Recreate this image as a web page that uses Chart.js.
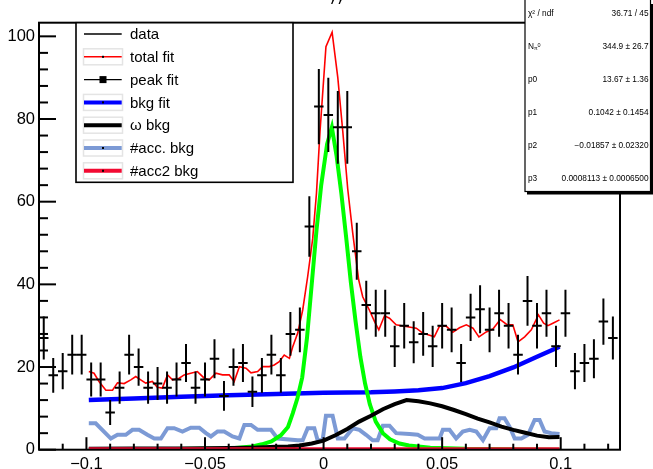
<!DOCTYPE html>
<html>
<head>
<meta charset="utf-8">
<script src="https://cdn.jsdelivr.net/npm/chart.js@4.4.1/dist/chart.umd.min.js"></script>
<style>
  html, body { margin: 0; padding: 0; background: #fff; }
  canvas { display: block; }
</style>
</head>
<body>
<canvas id="grafico" width="653" height="469"></canvas>
<script>
// histograma (dados)
const binCentros = [-0.118, -0.114, -0.110, -0.106, -0.102, -0.098, -0.094, -0.090, -0.086, -0.082,
  -0.078, -0.074, -0.070, -0.066, -0.062, -0.058, -0.054, -0.050, -0.046, -0.042,
  -0.038, -0.034, -0.030, -0.026, -0.022, -0.018, -0.014, -0.010, -0.006, -0.002,
  0.002, 0.006, 0.010, 0.014, 0.018, 0.022, 0.026, 0.030, 0.034, 0.038,
  0.042, 0.046, 0.050, 0.054, 0.058, 0.062, 0.066, 0.070, 0.074, 0.078,
  0.082, 0.086, 0.090, 0.094, 0.098, 0.102, 0.106, 0.110, 0.114, 0.118, 0.122];
const contagens = [27, 18, 19, 23, 23, 17, 17, 9, 15, 23,
  20, 15, 16, 15, 17, 21, 15, 17, 22, 13,
  20, 21, 14, 18, 23, 18, 28, 29, 54, 83,
  81, 78, 78, 48, 35, 33, 33, 25, 30, 26,
  28, 25, 30, 29, 21, 32, 34, 29, 33, 30,
  23, 36, 30, 33, 25, 33, 19, 21, 22, 31, 27];
const erros = [5.2, 4.2, 4.4, 4.8, 4.8, 4.1, 4.1, 3.0, 3.9, 4.8,
  4.5, 3.9, 4.0, 3.9, 4.1, 4.6, 3.9, 4.1, 4.7, 3.6,
  4.5, 4.6, 3.7, 4.2, 4.8, 4.2, 5.3, 5.4, 7.3, 9.1,
  9.0, 8.8, 8.8, 6.9, 5.9, 5.7, 5.7, 5.0, 5.5, 5.1,
  5.3, 5.0, 5.5, 5.4, 4.6, 5.7, 5.8, 5.4, 5.7, 5.5,
  4.8, 6.0, 5.5, 5.7, 5.0, 5.7, 4.4, 4.6, 4.7, 5.6, 5.2];
const meiaLargura = 0.002;

// ajuste total
const totalX = [-0.099, -0.0968, -0.0947, -0.0918, -0.089, -0.0869, -0.0841, -0.0813, -0.0792, -0.0771,
  -0.075, -0.0722, -0.0701, -0.068, -0.0658, -0.0637, -0.0609, -0.0588, -0.056, -0.0532,
  -0.0503, -0.0482, -0.0454, -0.0426, -0.0398, -0.0377, -0.0355, -0.0327, -0.0306, -0.0278,
  -0.0257, -0.0229, -0.0208, -0.0187, -0.0166, -0.0144, -0.013, -0.0109, -0.0088, -0.0067,
  -0.0046, -0.003, -0.0015, 0.001, 0.0036, 0.006, 0.0081, 0.0102, 0.0123, 0.0148,
  0.0165, 0.0193, 0.0215, 0.0233, 0.0257, 0.0278, 0.0306, 0.0348, 0.0391, 0.0418,
  0.0467, 0.0489, 0.0517, 0.0545, 0.0573, 0.0602, 0.063, 0.0655, 0.0686, 0.0714,
  0.0745, 0.0775, 0.0798, 0.082, 0.0848, 0.0876, 0.0906, 0.0928, 0.0946, 0.0967, 0.0995];
const totalY = [18.9, 18.5, 16.5, 14.4, 14.4, 16.2, 16.0, 16.9, 17.7, 16.9,
  16.1, 16.5, 15.1, 14.9, 18.1, 16.9, 17.3, 18.1, 18.5, 18.9,
  17.3, 16.9, 18.5, 18.1, 18.1, 16.5, 20.1, 19.7, 18.6, 18.9,
  20.1, 20.1, 20.5, 21.3, 22.9, 22.1, 24.9, 28.2, 33.8, 41.9,
  51, 62, 77, 97.5, 101, 90, 77, 63, 52.4, 41.1,
  37.0, 33.8, 31.0, 29.0, 32.4, 31.8, 30.2, 29.8, 29.4, 28.2,
  27.3, 29.9, 29.9, 28.4, 29.5, 30.2, 29.4, 27.3, 28.5, 29.2,
  31.5, 30.2, 30.2, 26.1, 27.3, 29.0, 32.6, 30.6, 30.0, 30.6, 31.4];

// pico
const picoX = [-0.099, -0.04, -0.03, -0.026, -0.022, -0.018, -0.015, -0.013, -0.011, -0.009,
  -0.007, -0.005, -0.003, -0.001, 0.0015, 0.0035, 0.0055, 0.0075, 0.0095, 0.0115,
  0.0135, 0.0155, 0.0175, 0.0195, 0.022, 0.025, 0.028, 0.032, 0.036, 0.04,
  0.045, 0.06, 0.0995];
const picoY = [0, 0.3, 0.8, 1.3, 2.0, 3.5, 5.5, 8.8, 12.5, 17.5,
  27, 40, 53, 64, 74, 78, 71, 62, 51.5, 40.5,
  31, 22.5, 16, 11, 6.8, 4.0, 2.5, 1.5, 1.0, 0.8,
  0.5, 0.2, 0];

// fundo polinomial
const bkgX = [-0.099, -0.08, -0.06, -0.04, -0.02, 0, 0.02, 0.03, 0.04, 0.05, 0.06, 0.07, 0.08, 0.09, 0.0995];
const bkgY = [12.0, 12.4, 12.8, 13.2, 13.5, 13.8, 13.9, 14.1, 14.4, 14.9, 16.1, 17.8, 19.9, 22.5, 24.9];

// fundo omega
const omegaX = [-0.099, -0.08, -0.06, -0.04, -0.03, -0.02, -0.015, -0.01, -0.005, 0,
  0.005, 0.01, 0.015, 0.02, 0.025, 0.03, 0.035, 0.04, 0.045, 0.05,
  0.055, 0.06, 0.065, 0.07, 0.075, 0.08, 0.085, 0.09, 0.095, 0.0995];
const omegaY = [0.2, 0.3, 0.3, 0.4, 0.5, 0.7, 0.8, 1.0, 1.5, 2.2,
  3.5, 5.0, 6.8, 8.2, 9.8, 11.0, 12.0, 11.7, 11.2, 10.5,
  9.6, 8.6, 7.5, 6.6, 5.6, 4.8, 4.1, 3.4, 3.0, 3.1];

// fundo acidental
const accX = [-0.099, -0.0961, -0.0897, -0.0869, -0.0834, -0.0806, -0.0778, -0.0743, -0.0714, -0.0686,
  -0.0658, -0.063, -0.0595, -0.056, -0.0524, -0.0496, -0.0475, -0.0447, -0.0419, -0.0384,
  -0.0355, -0.0334, -0.0306, -0.0278, -0.0222, -0.0194, -0.0109, -0.0088, -0.0067, -0.0039,
  -0.0025, -0.0004, 0.001, 0.0038, 0.006, 0.0088, 0.0123, 0.0151, 0.0179, 0.0207,
  0.0228, 0.025, 0.0278, 0.0306, 0.0362, 0.0397, 0.0426, 0.0489, 0.0503, 0.0531,
  0.0559, 0.0587, 0.0616, 0.0644, 0.0672, 0.07, 0.0728, 0.0742, 0.0763, 0.0784,
  0.0806, 0.0834, 0.0862, 0.089, 0.0911, 0.0932, 0.096, 0.0995];
const accY = [6.4, 6.4, 2.7, 3.6, 3.6, 4.8, 4.8, 3.6, 2.7, 2.7,
  5.2, 5.2, 4.4, 5.3, 5.3, 4.0, 3.2, 4.4, 4.4, 3.2,
  2.7, 6.0, 6.0, 4.8, 4.8, 2.7, 2.3, 2.3, 5.2, 5.2,
  2.3, 2.3, 8.2, 8.2, 2.7, 2.7, 5.2, 4.8, 3.6, 2.3,
  2.3, 5.8, 5.8, 4.0, 3.8, 3.6, 2.7, 2.7, 4.8, 4.8,
  2.7, 4.4, 4.8, 4.4, 2.3, 5.2, 5.2, 7.6, 7.6, 5.6,
  2.7, 2.7, 3.6, 7.2, 7.2, 4.4, 4.0, 3.8];

const acc2X = [-0.099, 0.0995];
const acc2Y = [0, 0];

// eixos
const xTicks = [-0.1, -0.05, 0, 0.05, 0.1];
const xTickLabels = ['\u22120.1', '\u22120.05', '0', '0.05', '0.1'];
const yTicks = [0, 20, 40, 60, 80, 100];
const yTickLabels = ['0', '20', '40', '60', '80', '100'];

// legenda, título cortado e caixa de estatística
const tituloFragmento = '\u03b3\u03b3';
const legendaTextos = ['data', 'total fit', 'peak fit', 'bkg fit', '\u03c9 bkg', '#acc. bkg', '#acc2 bkg'];
const statNomes = ['\u03c7\u00b2 / ndf', 'N', 'p0', 'p1', 'p2', 'p3'];
const statValores = ['36.71 / 45', '344.9 \u00b1 26.7', '13.67 \u00b1 1.36', '0.1042 \u00b1 0.1454',
  '\u22120.01857 \u00b1 0.02320', '0.0008113 \u00b1 0.0006500'];

const FONTE = "'Liberation Sans', Arial, Helvetica, sans-serif";
const AZUL_CLARO = '#7c9ad5';
const VERMELHO_ACC2 = '#f20a32';

function pontos(xs, ys) {
  return xs.map((x, i) => ({ x, y: ys[i] }));
}

function linha(ctx, x1, y1, x2, y2) {
  ctx.beginPath();
  ctx.moveTo(x1, y1);
  ctx.lineTo(x2, y2);
  ctx.stroke();
}

const barrasErro = {
  id: 'barrasErro',
  afterDatasetsDraw(chart) {
    const { ctx, chartArea: a, scales: { x, y } } = chart;
    ctx.save();
    ctx.beginPath();
    ctx.rect(a.left, a.top, a.right - a.left, a.bottom - a.top);
    ctx.clip();
    ctx.strokeStyle = '#000';
    ctx.lineWidth = 2;
    binCentros.forEach((c, i) => {
      const px = x.getPixelForValue(c);
      const py = y.getPixelForValue(contagens[i]);
      ctx.beginPath();
      ctx.moveTo(px, y.getPixelForValue(contagens[i] - erros[i]));
      ctx.lineTo(px, y.getPixelForValue(contagens[i] + erros[i]));
      ctx.moveTo(x.getPixelForValue(c - meiaLargura), py);
      ctx.lineTo(x.getPixelForValue(c + meiaLargura), py);
      ctx.stroke();
    });
    ctx.restore();
  }
};

const moldura = {
  id: 'moldura',
  afterDraw(chart) {
    const { ctx, chartArea: a, scales: { x, y } } = chart;
    ctx.save();
    ctx.strokeStyle = '#000';
    ctx.lineWidth = 2;
    ctx.strokeRect(a.left, a.top, a.right - a.left, a.bottom - a.top);

    // marcas do eixo y (para dentro)
    for (let v = 0; v <= y.max; v += 4) {
      const py = y.getPixelForValue(v);
      linha(ctx, a.left, py, a.left + (v % 20 === 0 ? 17 : 9), py);
    }
    // marcas do eixo x
    for (let k = -12; k <= 12; k++) {
      const px = x.getPixelForValue(k / 100);
      if (px < a.left || px > a.right) continue;
      linha(ctx, px, a.bottom, px, a.bottom - (k % 5 === 0 ? 12.5 : 6));
    }

    // título (só a parte de baixo aparece)
    ctx.fillStyle = '#000';
    ctx.font = 'italic 15px ' + FONTE;
    ctx.textAlign = 'left';
    ctx.textBaseline = 'alphabetic';
    ctx.fillText(tituloFragmento, 330, 1);

    // legenda
    const lx = 76, ly = 22.7, lw = 217, lh = 159.6;
    ctx.fillStyle = '#fff';
    ctx.fillRect(lx, ly, lw, lh);
    ctx.lineWidth = 1.6;
    ctx.strokeRect(lx, ly, lw, lh);
    const estilos = [
      { cor: '#000', w: 1.4 },
      { cor: '#ff0000', w: 1.6, caixa: true, ponto: true },
      { cor: '#000', w: 1.4, quadrado: true },
      { cor: '#0000ff', w: 4, caixa: true, ponto: true },
      { cor: '#000', w: 4, caixa: true },
      { cor: AZUL_CLARO, w: 4, caixa: true, ponto: true },
      { cor: VERMELHO_ACC2, w: 4, caixa: true, ponto: true }
    ];
    ctx.font = '15px ' + FONTE;
    ctx.textBaseline = 'middle';
    ctx.textAlign = 'left';
    legendaTextos.forEach((t, i) => {
      const ry = 34 + i * 22.8;
      const e = estilos[i];
      if (e.caixa) {
        ctx.strokeStyle = '#e4e4e4';
        ctx.lineWidth = 1.5;
        ctx.strokeRect(83.5, ry - 8, 39, 16);
      }
      ctx.strokeStyle = e.cor;
      ctx.lineWidth = e.w;
      linha(ctx, 84, ry, 121.7, ry);
      ctx.fillStyle = '#000';
      if (e.ponto) ctx.fillRect(102, ry - 1, 2, 2);
      if (e.quadrado) ctx.fillRect(99.5, ry - 3.5, 7, 7);
      ctx.fillText(t, 130, ry + 1);
    });

    // caixa de estatística
    ctx.fillStyle = '#000';
    ctx.fillRect(527, 4, 126, 190.5);
    ctx.fillStyle = '#fff';
    ctx.fillRect(525, -2, 125.5, 193.5);
    ctx.strokeStyle = '#000';
    ctx.lineWidth = 1.2;
    ctx.strokeRect(525, -2, 125.5, 193.5);
    ctx.fillStyle = '#000';
    ctx.font = '8.3px ' + FONTE;
    statNomes.forEach((n, i) => {
      const ry = 13.3 + i * 33;
      ctx.textAlign = 'left';
      ctx.fillText(n, 528, ry);
      if (i === 1) {
        ctx.font = '5.5px ' + FONTE;
        ctx.fillText('\u03c0', 534, ry + 2.5);
        ctx.fillText('0', 537.5, ry - 1);
        ctx.font = '8.3px ' + FONTE;
      }
      ctx.textAlign = 'right';
      ctx.fillText(statValores[i], 648.5, ry);
    });
    ctx.restore();
  }
};

Chart.defaults.font.family = FONTE;
Chart.defaults.color = '#000';

new Chart(document.getElementById('grafico'), {
  type: 'line',
  data: {
    datasets: [
      { label: 'total fit', data: pontos(totalX, totalY), borderColor: '#ff0000', borderWidth: 1.6, order: 1 },
      { label: '#acc2 bkg', data: pontos(acc2X, acc2Y), borderColor: VERMELHO_ACC2, borderWidth: 5, order: 2, clip: 0 },
      { label: '\u03c9 bkg', data: pontos(omegaX, omegaY), borderColor: '#000', borderWidth: 4, order: 3, clip: 0 },
      { label: 'peak fit', data: pontos(picoX, picoY), borderColor: '#00ff00', borderWidth: 4, order: 4, clip: 0 },
      { label: 'bkg fit', data: pontos(bkgX, bkgY), borderColor: '#0000ff', borderWidth: 4.5, order: 5 },
      { label: '#acc. bkg', data: pontos(accX, accY), borderColor: AZUL_CLARO, borderWidth: 4, order: 6 },
      { label: 'data', data: pontos(binCentros, contagens), showLine: false, pointRadius: 0, order: 7 }
    ]
  },
  options: {
    responsive: false,
    animation: false,
    devicePixelRatio: 1,
    layout: { padding: { top: 22.7, right: 33, left: 0, bottom: 0 } },
    elements: { point: { radius: 0 }, line: { tension: 0, borderCapStyle: 'butt', borderJoinStyle: 'miter' } },
    plugins: { legend: { display: false }, tooltip: { enabled: false } },
    scales: {
      x: {
        type: 'linear',
        min: -0.12,
        max: 0.125,
        grid: { display: false, drawTicks: false },
        border: { display: false },
        afterBuildTicks: s => { s.ticks = xTicks.map(v => ({ value: v })); },
        afterFit: s => { s.height = 19.3; },
        ticks: {
          padding: 5,
          maxRotation: 0,
          font: { size: 16.5 },
          callback: (v) => xTickLabels[xTicks.findIndex(t => Math.abs(t - v) < 1e-9)]
        }
      },
      y: {
        min: 0,
        max: 103.3,
        grid: { display: false, drawTicks: false },
        border: { display: false },
        afterBuildTicks: s => { s.ticks = yTicks.map(v => ({ value: v })); },
        afterFit: s => { s.width = 39; },
        ticks: {
          padding: 4,
          font: { size: 16.5 },
          callback: (v) => yTickLabels[yTicks.indexOf(v)]
        }
      }
    }
  },
  plugins: [barrasErro, moldura]
});
</script>
</body>
</html>
